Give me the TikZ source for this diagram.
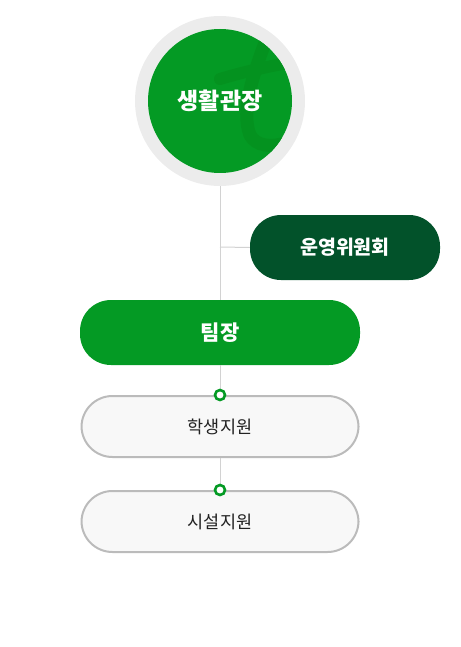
\documentclass[tikz,border=0pt]{standalone}
\usepackage{fontspec}
\setmainfont{Noto Sans CJK KR}
\definecolor{mgreen}{HTML}{049A24}
\definecolor{wgreen}{HTML}{04921F}
\definecolor{dgreen}{HTML}{02522A}
\definecolor{ring}{HTML}{ECECEC}
\definecolor{linec}{HTML}{D2D2D2}
\definecolor{subfill}{HTML}{F8F8F8}
\definecolor{subline}{HTML}{BBBBBB}
\definecolor{subtext}{HTML}{222222}
\tikzset{
  pill/.style={rectangle, rounded corners=31pt, minimum width=280pt, minimum height=65pt, inner sep=0pt},
  greenpill/.style={pill, fill=mgreen, text=white, font=\bfseries\fontsize{21}{25}\selectfont},
  darkpill/.style={pill, fill=dgreen, text=white, minimum width=190pt, font=\bfseries\fontsize{19.5}{23}\selectfont},
  subpill/.style={pill, fill=subfill, draw=subline, line width=2pt, minimum width=277pt, minimum height=61pt, text=subtext, font=\fontsize{17.5}{21}\selectfont},
  conn/.style={draw=linec, line width=1pt},
  dot/.style={circle, draw=mgreen, fill=white, line width=2.6pt, minimum size=10pt, inner sep=0pt}
}
\begin{document}
\begin{tikzpicture}[x=1pt,y=-1pt]
\useasboundingbox (0,0) rectangle (460,647);
\coordinate (branch) at (220,247);
% top circle
\fill[ring] (220,101) circle (85);
\fill[mgreen] (220,101) circle (72);
\begin{scope}
\clip (220,101) circle (72);
\draw[wgreen, line width=12pt, line cap=round] (220,79) .. controls (250,70) and (280,64) .. (305,60);
\draw[wgreen, line width=13pt, line cap=round] (266,40) .. controls (255,70) and (240,110) .. (250,135) .. controls (256,146) and (270,148) .. (290,142);
\end{scope}
\node[circle, minimum size=170pt, inner sep=0pt, text=white, font=\bfseries\fontsize{23}{27}\selectfont] (top) at (220,101) {생활관장};
\node[darkpill] (committee) at (345,247.5) {운영위원회};
\node[greenpill] (team) at (220,332.5) {팀장};
\node[subpill] (s1) at (220,426.5) {학생지원};
\node[subpill] (s2) at (220,521.5) {시설지원};
\draw[conn] (top.south) -- (team.north);
\draw[conn] (branch) -- (committee.west);
\draw[conn] (team.south) -- (s1.north);
\draw[conn] (s1.south) -- (s2.north);
\node[dot] (d1) at (s1.north) {};
\node[dot] (d2) at (s2.north) {};
\end{tikzpicture}
\end{document}
